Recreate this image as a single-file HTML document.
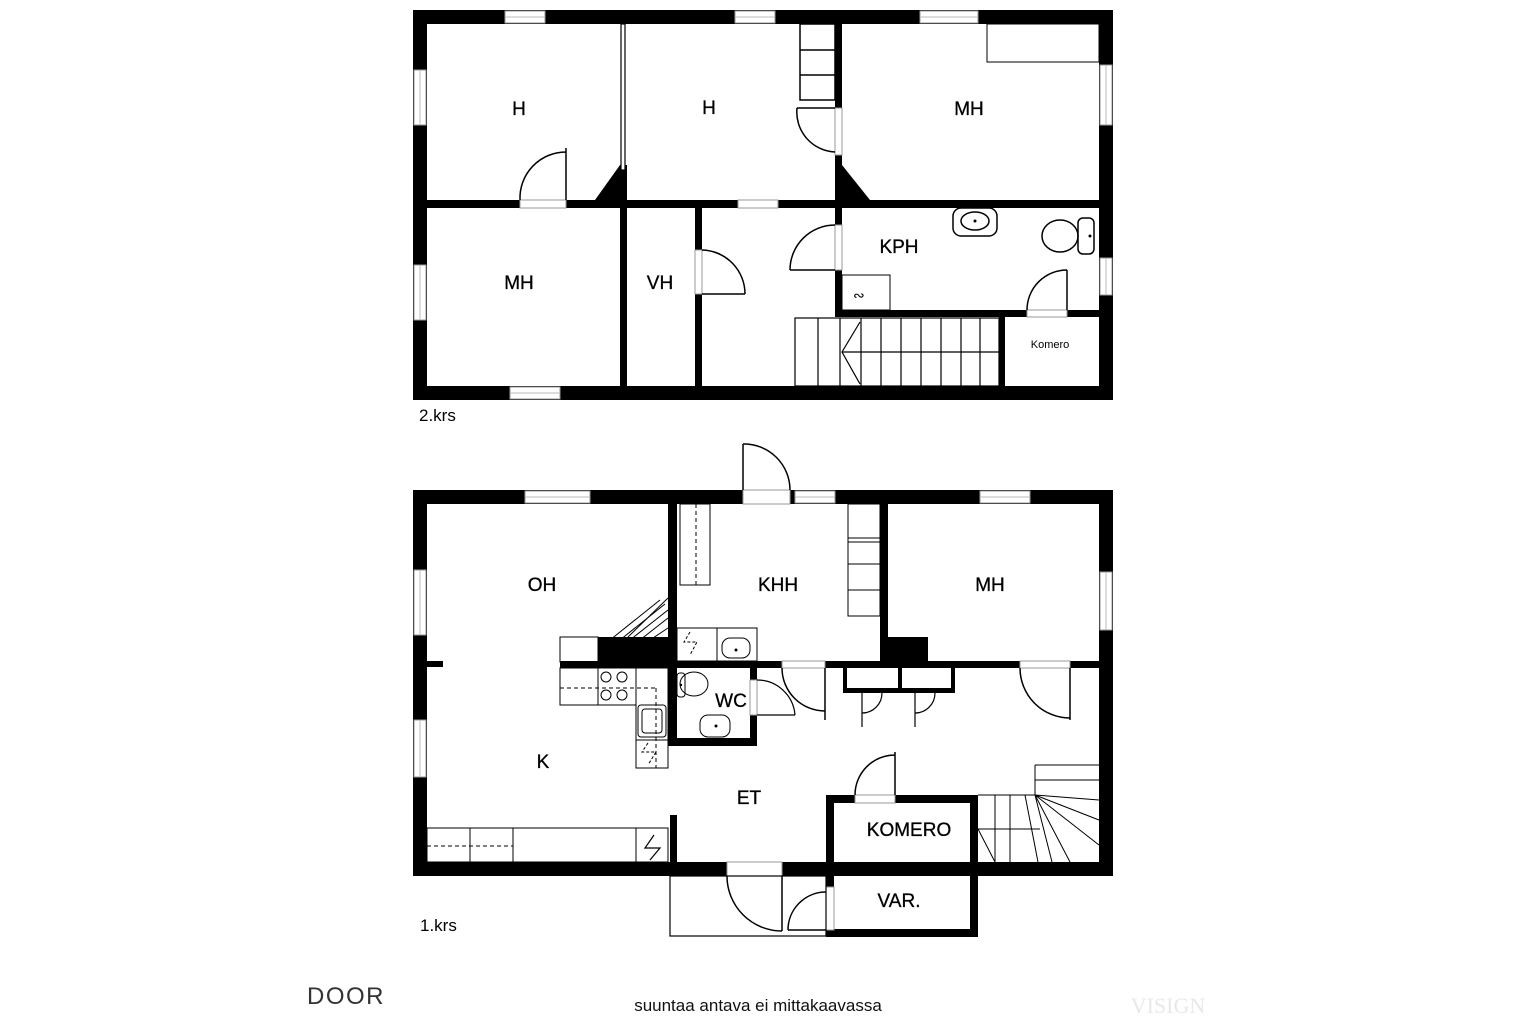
<!DOCTYPE html>
<html><head><meta charset="utf-8"><style>
html,body{margin:0;padding:0;background:#fff;}
svg{display:block;font-family:"Liberation Sans",sans-serif;}
</style></head><body>
<svg width="1536" height="1024" viewBox="0 0 1536 1024" xmlns="http://www.w3.org/2000/svg">
<rect width="1536" height="1024" fill="#fff"/>
<!-- ================= UPPER FLOOR ================= -->
<g fill="#000">
 <rect x="413" y="10" width="700" height="14"/>
 <rect x="413" y="386" width="700" height="14"/>
 <rect x="413" y="10" width="14" height="390"/>
 <rect x="1099" y="10" width="14" height="390"/>
 <rect x="427" y="200" width="672" height="8"/>
 <rect x="620" y="170" width="7" height="216"/>
 <rect x="835" y="24" width="7" height="292"/>
 <rect x="695" y="208" width="7" height="178"/>
 <rect x="835" y="310" width="264" height="7"/>
 <rect x="999" y="316" width="6" height="70"/>
 <polygon points="595,200 620,165 627,165 627,200"/>
 <polygon points="842,165 870,200 842,200"/>
</g>
<g fill="#fff" stroke="#999" stroke-width="1">
 <rect x="505" y="11" width="40" height="12"/><rect x="735" y="11" width="40" height="12"/><rect x="920" y="11" width="58" height="12"/>
 <rect x="414" y="70" width="12" height="55"/><rect x="414" y="265" width="12" height="55"/>
 <rect x="1100" y="65" width="12" height="60"/><rect x="1100" y="258" width="12" height="37"/>
 <rect x="510" y="387" width="50" height="12"/>
 <rect x="520" y="200" width="46" height="8"/><rect x="738" y="200" width="40" height="8"/>
 <rect x="835" y="108" width="7" height="47"/><rect x="835" y="225" width="7" height="45"/>
 <rect x="695" y="250" width="7" height="44"/><rect x="1027" y="310" width="40" height="7"/>
</g>
<g stroke="#bbb" stroke-width="1">
 <line x1="505" y1="17" x2="545" y2="17"/><line x1="735" y1="17" x2="775" y2="17"/><line x1="920" y1="17" x2="978" y2="17"/>
 <line x1="420" y1="70" x2="420" y2="125"/><line x1="420" y1="265" x2="420" y2="320"/>
 <line x1="1106" y1="65" x2="1106" y2="125"/><line x1="1106" y1="258" x2="1106" y2="295"/>
 <line x1="510" y1="393" x2="560" y2="393"/>
</g>
<rect x="621" y="24" width="4" height="146" fill="#fff" stroke="#000" stroke-width="1.2"/>
<g fill="none" stroke="#000" stroke-width="1.5">
 <path d="M566 200 V148 M520 200 A46 46 0 0 1 566 152"/>
 <path d="M835 108 H797 M797 108 A40 40 0 0 0 835 152"/>
 <path d="M835 270 H790 M790 270 A45 45 0 0 1 835 225"/>
 <path d="M702 294 H745 M745 294 A44 44 0 0 0 702 250"/>
 <path d="M1067 310 V270 M1027 310 A40 40 0 0 1 1067 270"/>
 <rect x="800" y="24" width="35" height="76"/><line x1="800" y1="50" x2="835" y2="50"/><line x1="800" y1="75" x2="835" y2="75"/>
 <rect x="987" y="24" width="112" height="38" stroke-width="1"/>
 <rect x="842" y="275" width="48" height="35" stroke-width="1"/>
 <rect x="953" y="208" width="44" height="28" rx="8"/><ellipse cx="975" cy="221" rx="14" ry="9"/>
 <ellipse cx="1060" cy="236" rx="18" ry="16"/><rect x="1078" y="218" width="16" height="36" rx="5"/>
 <rect x="795" y="318" width="204" height="68" stroke-width="1.2"/>
</g>
<circle cx="975" cy="221" r="1.5"/><circle cx="1090" cy="236" r="1.5"/>
<text x="853" y="300" font-size="14">&#8766;</text>
<g stroke="#000" stroke-width="1.2">
 <line x1="818" y1="318" x2="818" y2="386"/><line x1="840" y1="318" x2="840" y2="386"/>
 <line x1="861" y1="318" x2="861" y2="386"/><line x1="881" y1="318" x2="881" y2="386"/><line x1="901" y1="318" x2="901" y2="386"/>
 <line x1="921" y1="318" x2="921" y2="386"/><line x1="941" y1="318" x2="941" y2="386"/><line x1="961" y1="318" x2="961" y2="386"/>
 <line x1="980" y1="318" x2="980" y2="386"/>
 <line x1="842" y1="352" x2="999" y2="352"/>
 <polyline points="860,322 842,352 860,384" fill="none"/>
</g>
<g font-size="19" text-anchor="middle" stroke="#000" stroke-width="0.3">
 <text x="519" y="115">H</text><text x="709" y="114">H</text><text x="969" y="115">MH</text>
 <text x="519" y="289">MH</text><text x="660" y="289">VH</text><text x="899" y="253">KPH</text>
</g>
<text x="1050" y="348" font-size="11" text-anchor="middle">Komero</text>
<text x="419" y="421" font-size="17">2.krs</text>

<!-- ================= LOWER FLOOR ================= -->
<g fill="#000">
 <rect x="413" y="490" width="700" height="14"/>
 <rect x="413" y="862" width="700" height="14"/>
 <rect x="413" y="490" width="14" height="386"/>
 <rect x="1099" y="490" width="14" height="386"/>
 <rect x="668" y="504" width="9" height="242"/>
 <rect x="880" y="504" width="8" height="160"/>
 <rect x="560" y="661" width="539" height="7"/>
 <rect x="598" y="637" width="70" height="25"/>
 <rect x="880" y="637" width="48" height="25"/>
 <rect x="427" y="661" width="16" height="6"/>
 <rect x="668" y="738" width="89" height="8"/>
 <rect x="750" y="668" width="7" height="78"/>
 <rect x="670" y="815" width="7" height="47"/>
 <rect x="826" y="795" width="152" height="8"/><rect x="826" y="795" width="8" height="67"/><rect x="970" y="795" width="8" height="81"/>
 <rect x="826" y="876" width="8" height="60"/><rect x="970" y="876" width="8" height="60"/><rect x="826" y="929" width="152" height="8"/>
 <rect x="843" y="688" width="112" height="5"/><rect x="843" y="668" width="4" height="25"/><rect x="951" y="668" width="4" height="25"/><rect x="898" y="668" width="4" height="25"/>
</g>
<g fill="#fff" stroke="#999" stroke-width="1">
 <rect x="525" y="491" width="65" height="12"/><rect x="795" y="491" width="40" height="12"/><rect x="980" y="491" width="50" height="12"/>
 <rect x="414" y="570" width="12" height="65"/><rect x="414" y="720" width="12" height="57"/>
 <rect x="1100" y="572" width="12" height="58"/>
 <rect x="743" y="490" width="47" height="14"/>
 <rect x="782" y="661" width="43" height="7"/><rect x="1020" y="661" width="50" height="7"/>
 <rect x="750" y="680" width="7" height="35"/>
 <rect x="727" y="862" width="55" height="14"/>
 <rect x="826" y="887" width="8" height="43"/>
 <rect x="855" y="795" width="40" height="8"/>
</g>
<g stroke="#bbb" stroke-width="1">
 <line x1="525" y1="497" x2="590" y2="497"/><line x1="795" y1="497" x2="835" y2="497"/><line x1="980" y1="497" x2="1030" y2="497"/>
 <line x1="420" y1="570" x2="420" y2="635"/><line x1="420" y1="720" x2="420" y2="777"/><line x1="1106" y1="572" x2="1106" y2="630"/>
</g>
<g fill="none" stroke="#000" stroke-width="1.5">
 <path d="M743 490 V444 M743 444 A46 46 0 0 1 790 490"/>
 <path d="M825 668 V720 M782 668 A43 43 0 0 0 825 711"/>
 <path d="M1070 668 V720 M1020 668 A50 50 0 0 0 1070 718"/>
 <path d="M757 715 H795 M757 680 A38 38 0 0 1 795 715" stroke-width="1.2"/>
 <path d="M862 693 V727 M882 693 A20 20 0 0 1 862 713" stroke-width="1.2"/>
 <path d="M915 693 V727 M935 693 A20 20 0 0 1 915 713" stroke-width="1.2"/>
 <path d="M895 795 V752 M855 795 A40 40 0 0 1 895 755"/>
 <path d="M782 876 V931 M727 876 A55 55 0 0 0 782 931"/>
 <path d="M826 930 H788 M788 930 A38 38 0 0 1 826 892"/>
 <rect x="670" y="876" width="156" height="60" stroke-width="1.2"/>
</g>
<g fill="none" stroke="#000" stroke-width="1">
 <rect x="680" y="504" width="30" height="81"/><line x1="696" y1="504" x2="696" y2="585" stroke-dasharray="4,3"/>
 <rect x="848" y="504" width="32" height="38"/><rect x="848" y="538" width="32" height="78"/><line x1="848" y1="564" x2="880" y2="564"/><line x1="848" y1="590" x2="880" y2="590"/>
 <rect x="677" y="628" width="80" height="33"/><line x1="717" y1="628" x2="717" y2="661"/>
 <rect x="722" y="638" width="28" height="20" rx="8"/>
 <rect x="560" y="637" width="38" height="25"/>
 <rect x="560" y="668" width="38" height="37"/><rect x="598" y="668" width="38" height="37"/><rect x="636" y="668" width="32" height="100"/>
 <line x1="560" y1="688" x2="656" y2="688" stroke-dasharray="4,3"/><line x1="656" y1="688" x2="656" y2="768" stroke-dasharray="4,3"/>
 <circle cx="606" cy="677" r="5"/><circle cx="622" cy="677" r="5"/><circle cx="606" cy="695" r="5"/><circle cx="622" cy="695" r="5"/>
 <rect x="638" y="705" width="28" height="32" rx="3"/><rect x="642" y="709" width="20" height="24" rx="3"/>
 <line x1="636" y1="740" x2="668" y2="740"/>
 <ellipse cx="694" cy="684" rx="14" ry="12"/><rect x="677" y="673" width="8" height="24" rx="3"/>
 <rect x="700" y="715" width="30" height="22" rx="8"/>
 <path d="M610 640 L660 600 M620 640 L665 604 M630 640 L668 610 M640 640 L668 618 M650 640 L668 628" />
 <path d="M628 637 L668 598"/>
 <rect x="427" y="828" width="241" height="34"/>
 <line x1="470" y1="828" x2="470" y2="862"/><line x1="513" y1="828" x2="513" y2="862"/><line x1="636" y1="828" x2="636" y2="862"/>
 <line x1="427" y1="846" x2="513" y2="846" stroke-dasharray="4,3"/>
 <path d="M654 835 L645 848 L660 848 L650 860" stroke-width="1.2"/>
 <path d="M690 632 L684 642 L697 642 L690 655" stroke-dasharray="3,2"/>
 <path d="M648 743 L642 752 L656 752 L648 765" stroke-dasharray="3,2"/>
 <path d="M1035 765 H1099 M1035 765 V795 M978 795 H1035"/>
 <path d="M995 795 V862 M1010 795 V862 M1025 795 L1038 862 M1035 795 L1052 862 M1035 795 L1070 862 M1035 795 L1099 845"/>
 <path d="M978 829 H1040 M1035 795 L1099 820 M1035 795 L1099 800 M1035 780 H1099"/>
 <path d="M978 829 L995 862"/>
</g>
<circle cx="736" cy="650" r="1.5"/><circle cx="716" cy="726" r="1.5"/><circle cx="681" cy="685" r="1.2"/>
<g font-size="19" text-anchor="middle" stroke="#000" stroke-width="0.3">
 <text x="542" y="591">OH</text><text x="778" y="591">KHH</text><text x="990" y="591">MH</text>
 <text x="731" y="707">WC</text><text x="543" y="768">K</text><text x="749" y="804">ET</text>
 <text x="909" y="836">KOMERO</text><text x="899" y="907">VAR.</text>
</g>
<text x="420" y="931" font-size="17">1.krs</text>
<!-- footer -->
<text x="307" y="1004" font-size="24" fill="#333" letter-spacing="1.5">DOOR</text>
<text x="758" y="1011" font-size="17" text-anchor="middle" fill="#111">suuntaa antava ei mittakaavassa</text>
<text x="1168" y="1013" font-size="22" text-anchor="middle" fill="#e8e8e4" font-family="Liberation Serif,serif">VISIGN</text>
</svg>
</body></html>
